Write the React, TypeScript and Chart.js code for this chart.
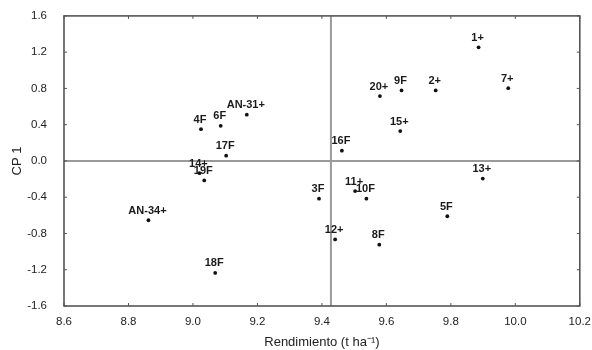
import React, { useEffect, useRef } from "react";
import { Chart, registerables } from "chart.js";

Chart.register(...registerables);

const GENOTYPES = ["1+", "2+", "7+", "9F", "20+", "15+", "16F", "AN-31+", "6F", "4F", "17F", "14+", "19F", "AN-34+", "18F", "3F", "11+", "10F", "12+", "8F", "5F", "13+"];
const RENDIMIENTO = [9.886, 9.753, 9.978, 9.647, 9.58, 9.643, 9.462, 9.167, 9.086, 9.025, 9.103, 9.02, 9.035, 8.862, 9.069, 9.391, 9.503, 9.538, 9.441, 9.578, 9.789, 9.899];
const CP1 = [1.253, 0.778, 0.803, 0.778, 0.716, 0.329, 0.113, 0.51, 0.387, 0.351, 0.058, -0.135, -0.215, -0.654, -1.235, -0.416, -0.332, -0.416, -0.866, -0.924, -0.61, -0.194];
const MEAN_RENDIMIENTO = 9.428;
const X_TICKS = [8.6, 8.8, 9.0, 9.2, 9.4, 9.6, 9.8, 10.0, 10.2];
const Y_TICKS = [-1.6, -1.2, -0.8, -0.4, 0.0, 0.4, 0.8, 1.2, 1.6];

const FONT = "'Liberation Sans', Arial, sans-serif";

const framePlugin = {
  id: "framePlugin",
  beforeDatasetsDraw(chart: any) {
    const { ctx, chartArea, scales } = chart;
    const { left, right, top, bottom } = chartArea;
    ctx.save();
    ctx.strokeStyle = "#9a9a9a";
    ctx.lineWidth = 2;
    const y0 = scales.y.getPixelForValue(0);
    const xm = scales.x.getPixelForValue(MEAN_RENDIMIENTO);
    ctx.beginPath();
    ctx.moveTo(left, y0);
    ctx.lineTo(right, y0);
    ctx.moveTo(xm, top);
    ctx.lineTo(xm, bottom);
    ctx.stroke();
    ctx.restore();
  },
  afterDatasetsDraw(chart: any) {
    const { ctx, chartArea, scales } = chart;
    const { left, right, top, bottom } = chartArea;
    ctx.save();
    ctx.font = `bold 11px ${FONT}`;
    ctx.fillStyle = "#1a1a1a";
    ctx.textAlign = "center";
    ctx.textBaseline = "middle";
    const meta = chart.getDatasetMeta(0);
    meta.data.forEach((pt: any, i: number) => {
      ctx.fillText(GENOTYPES[i], pt.x - 1, pt.y - 9.5);
    });
    ctx.strokeStyle = "#555555";
    ctx.lineWidth = 1.6;
    ctx.strokeRect(left, top, right - left, bottom - top);
    ctx.lineWidth = 1;
    ctx.beginPath();
    X_TICKS.forEach((v) => {
      const x = scales.x.getPixelForValue(v);
      ctx.moveTo(x, bottom);
      ctx.lineTo(x, bottom - 3);
      ctx.moveTo(x, top);
      ctx.lineTo(x, top + 3);
    });
    Y_TICKS.forEach((v) => {
      const y = scales.y.getPixelForValue(v);
      ctx.moveTo(left, y);
      ctx.lineTo(left + 3, y);
      ctx.moveTo(right, y);
      ctx.lineTo(right - 3, y);
    });
    ctx.stroke();
    ctx.restore();
  },
};

export default function App() {
  const canvasRef = useRef<HTMLCanvasElement | null>(null);

  useEffect(() => {
    document.body.style.margin = "0";
    const canvas = canvasRef.current;
    if (!canvas) return;
    const chart = new Chart(canvas, {
      type: "scatter",
      data: {
        datasets: [
          {
            data: RENDIMIENTO.map((x, i) => ({ x, y: CP1[i] })),
            pointRadius: 1.9,
            pointBackgroundColor: "#111111",
            pointBorderColor: "#111111",
            pointBorderWidth: 0,
          },
        ],
      },
      options: {
        responsive: false,
        animation: false,
        devicePixelRatio: 1,
        layout: { padding: { top: 14, right: 9, left: 0, bottom: 0 } },
        plugins: {
          legend: { display: false },
          tooltip: { enabled: false },
        },
        scales: {
          x: {
            type: "linear",
            min: 8.6,
            max: 10.2,
            grid: { display: false },
            border: { display: false },
            afterBuildTicks: (scale: any) => {
              scale.ticks = X_TICKS.map((v) => ({ value: v }));
            },
            afterFit: (scale: any) => {
              scale.height = 44;
            },
            ticks: {
              padding: 1,
              color: "#222222",
              font: { family: FONT, size: 11.5 },
              callback: (v: any) => Number(v).toFixed(1),
            },
            title: {
              display: true,
              text: "Rendimiento (t ha\u207B\u00B9)",
              color: "#222222",
              font: { family: FONT, size: 13 },
              padding: { top: 2, bottom: 0 },
            },
          },
          y: {
            type: "linear",
            min: -1.6,
            max: 1.6,
            grid: { display: false },
            border: { display: false },
            afterBuildTicks: (scale: any) => {
              scale.ticks = Y_TICKS.map((v) => ({ value: v }));
            },
            afterFit: (scale: any) => {
              scale.width = 64;
            },
            ticks: {
              padding: 9,
              color: "#222222",
              font: { family: FONT, size: 11.5 },
              callback: (v: any) => Number(v).toFixed(1),
            },
            title: {
              display: true,
              text: "CP 1",
              color: "#222222",
              font: { family: FONT, size: 13 },
              padding: { top: 10, bottom: 0 },
            },
          },
        },
      },
      plugins: [framePlugin],
    });
    return () => chart.destroy();
  }, []);

  return (
    <div style={{ width: 592, height: 350 }}>
      <canvas ref={canvasRef} width={592} height={350} style={{ width: 592, height: 350, display: "block" }} />
    </div>
  );
}
